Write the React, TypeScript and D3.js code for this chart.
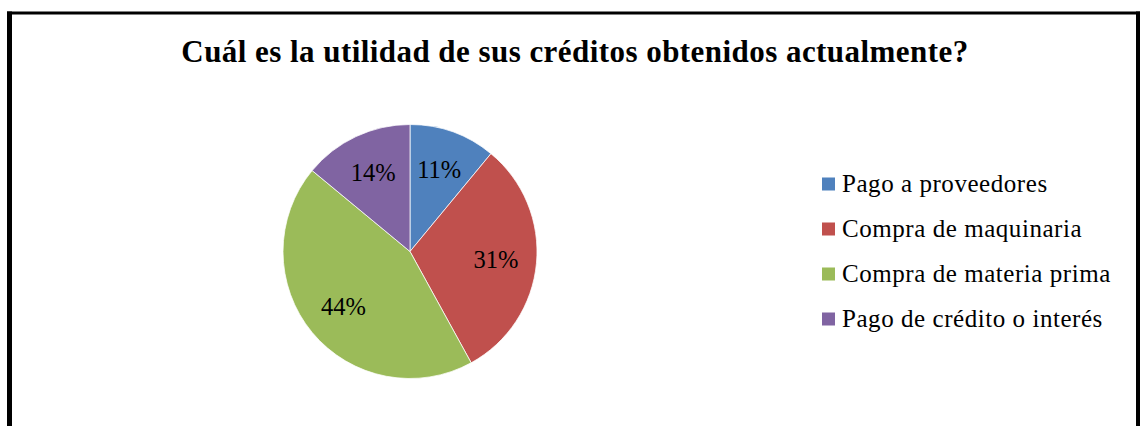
import React, { useRef, useEffect } from "react";
import * as d3 from "d3";

// valores
const categories = [
  "Pago a proveedores",
  "Compra de maquinaria",
  "Compra de materia prima",
  "Pago de crédito o interés",
];
const values = [11, 31, 44, 14];
const colors = ["#4F81BD", "#C0504D", "#9BBB59", "#8064A2"];
const title = "Cuál es la utilidad de sus créditos obtenidos actualmente?";

const width = 1142;
const height = 426;

const App = () => {
  const svgRef = useRef<SVGSVGElement>(null);

  useEffect(() => {
    const svg = d3.select(svgRef.current);
    svg.selectAll("*").remove();

    const font = "'Liberation Serif', 'Times New Roman', serif";

    // marco del grafico
    svg.append("line").attr("x1", 7).attr("x2", 1140).attr("y1", 13).attr("y2", 13)
      .attr("stroke", "#000").attr("stroke-width", 3);
    svg.append("line").attr("x1", 9.5).attr("x2", 9.5).attr("y1", 11.5).attr("y2", height)
      .attr("stroke", "#000").attr("stroke-width", 5);
    svg.append("line").attr("x1", 1138).attr("x2", 1138).attr("y1", 11.5).attr("y2", height)
      .attr("stroke", "#000").attr("stroke-width", 4);

    svg.append("text")
      .attr("x", 575)
      .attr("y", 62)
      .attr("text-anchor", "middle")
      .style("font-family", font)
      .style("font-weight", "bold")
      .style("font-size", "31px")
      .style("letter-spacing", "0.45px")
      .text(title);

    const cx = 410;
    const cy = 251.5;
    const radius = 127;

    const pie = d3.pie<number>().sort(null).value(d => d);
    const arcs = pie(values);
    const arc = d3.arc<d3.PieArcDatum<number>>().innerRadius(0).outerRadius(radius);
    const labelArc = d3.arc<d3.PieArcDatum<number>>().innerRadius(radius * 0.68).outerRadius(radius * 0.68);

    const g = svg.append("g").attr("transform", `translate(${cx}, ${cy})`);

    g.selectAll("path")
      .data(arcs)
      .join("path")
      .attr("d", arc)
      .attr("fill", (d, i) => colors[i])
      .attr("stroke", "#fff")
      .attr("stroke-width", 0.75);

    g.selectAll("text")
      .data(arcs)
      .join("text")
      .attr("transform", d => {
        const [x, y] = labelArc.centroid(d);
        return `translate(${x}, ${y})`;
      })
      .attr("text-anchor", "middle")
      .attr("dy", "0.33em")
      .style("font-family", font)
      .style("font-size", "24.5px")
      .attr("fill", "#000")
      .text(d => `${d.data}%`);

    // leyenda
    const legendY = d3.scalePoint<string>().domain(categories).range([184, 319]);
    const legend = svg.append("g");
    legend.selectAll("rect")
      .data(categories)
      .join("rect")
      .attr("x", 822)
      .attr("y", d => (legendY(d) as number) - 6.5)
      .attr("width", 13)
      .attr("height", 13)
      .attr("fill", (d, i) => colors[i]);
    legend.selectAll("text")
      .data(categories)
      .join("text")
      .attr("x", 842)
      .attr("y", d => (legendY(d) as number) + 7.5)
      .style("font-family", font)
      .style("font-size", "25px")
      .style("letter-spacing", "0.55px")
      .text(d => d);
  }, []);

  return (
    <div style={{ position: "absolute", left: 0, top: 0 }}>
      <svg ref={svgRef} width={width} height={height} style={{ display: "block", background: "#fff" }} />
    </div>
  );
};

export default App;
